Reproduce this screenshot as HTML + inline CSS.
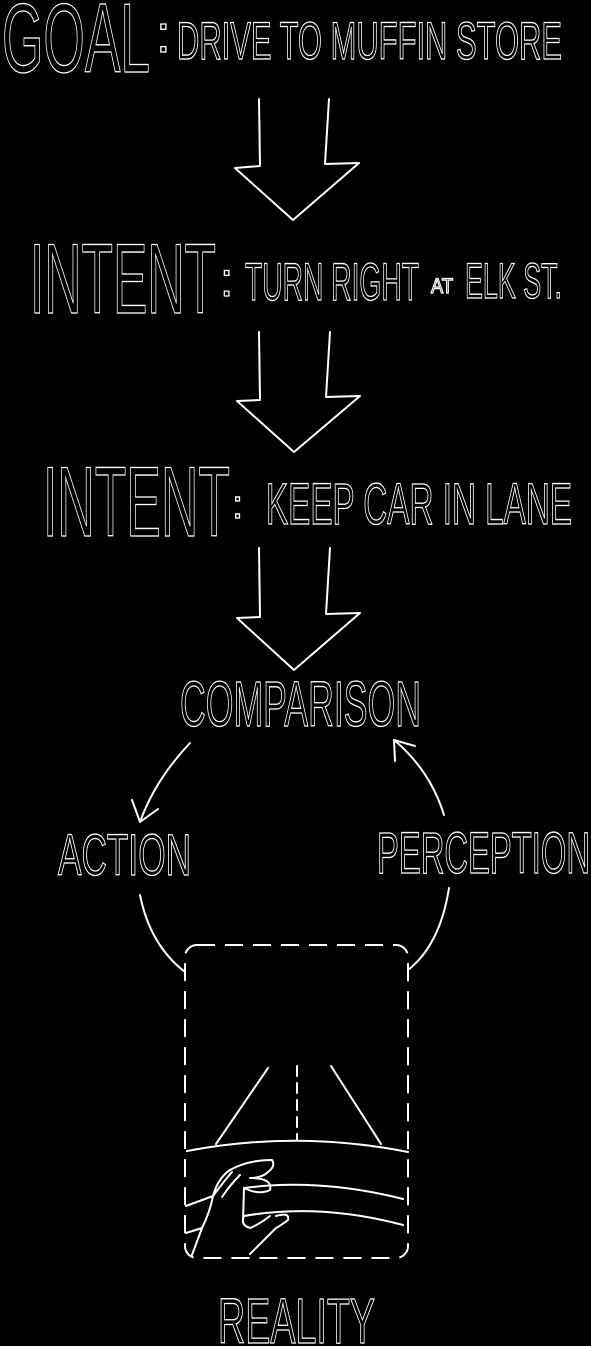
<!DOCTYPE html>
<html><head><meta charset="utf-8"><style>
html,body{margin:0;padding:0;background:#000;width:591px;height:1346px;overflow:hidden}
svg{display:block}
text{font-family:"Liberation Sans",sans-serif;fill:none;stroke:#fff;stroke-width:1.3}
.l{fill:none;stroke:#fff;stroke-width:2;stroke-linecap:round;stroke-linejoin:round}
</style></head><body>
<svg width="591" height="1346" viewBox="0 0 591 1346">
<text x="2" y="72" font-size="98" textLength="148" lengthAdjust="spacingAndGlyphs">GOAL</text>
<text x="156" y="52" font-size="53">:</text>
<text x="177" y="59" font-size="53" textLength="385" lengthAdjust="spacingAndGlyphs">DRIVE TO MUFFIN STORE</text>
<path class="l" d="M259 99 L260 166 L235 168 L293 220 L359 163 L325 164 L329 99"/>

<text x="30" y="313" font-size="99" textLength="186" lengthAdjust="spacingAndGlyphs">INTENT</text>
<text x="220" y="296" font-size="48">:</text>
<text x="245" y="300" font-size="53" textLength="174" lengthAdjust="spacingAndGlyphs">TURN RIGHT</text>
<text x="431" y="293" font-size="21" textLength="22" lengthAdjust="spacingAndGlyphs">AT</text>
<text x="465" y="298" font-size="50" textLength="97" lengthAdjust="spacingAndGlyphs">ELK ST.</text>
<path class="l" d="M259 332 L260 400 L237 401 L294 452 L360 396 L326 397 L330 332"/>

<text x="43" y="536" font-size="99" textLength="187" lengthAdjust="spacingAndGlyphs">INTENT</text>
<text x="232" y="518" font-size="40">:</text>
<text x="266" y="524" font-size="58" textLength="306" lengthAdjust="spacingAndGlyphs">KEEP CAR IN LANE</text>
<path class="l" d="M259 548 L260 617 L237 618 L294 670 L360 613 L326 614 L330 548"/>

<text x="180" y="726" font-size="64" textLength="241" lengthAdjust="spacingAndGlyphs">COMPARISON</text>
<path class="l" d="M190 743 Q155 780 140 822 M140 822 L132 800 M140 822 L158 809"/>
<path class="l" d="M444 815 Q430 770 394 740 M394 740 L395 761 M394 740 L415 746"/>
<text x="58" y="875" font-size="58" textLength="133" lengthAdjust="spacingAndGlyphs">ACTION</text>
<text x="377" y="873" font-size="58" textLength="213" lengthAdjust="spacingAndGlyphs">PERCEPTION</text>
<path class="l" d="M140 895 Q150 945 185 972"/>
<path class="l" d="M449 888 Q440 945 408 970"/>

<rect x="185" y="945" width="223" height="313" rx="12" fill="none" stroke="#fff" stroke-width="2" stroke-dasharray="18 10"/>
<g>
<path class="l" d="M268 1068 L216 1144 M331 1066 L381 1144"/>
<path class="l" d="M297 1066 L297 1140" stroke-dasharray="10 7"/>
<path class="l" d="M187 1151 Q297 1130 408 1152"/>
<path class="l" d="M244 1188 Q320 1178 403 1199 M244 1216 Q320 1203 403 1225 M244 1188 L243 1220"/>
<path class="l" d="M186 1206 L213 1196 Q218 1178 230 1170 Q248 1160 272 1160 Q276 1166 268 1172 Q262 1178 250 1178 Q273 1178 270 1190 Q260 1195 246 1189 M213 1196 Q225 1180 232 1172 M222 1197 Q230 1185 240 1175 M186 1233 L202 1228 L192 1255 M202 1228 Q210 1212 213 1196 M244 1216 Q240 1225 250 1228 Q258 1225 270 1216 M276 1216 Q290 1212 288 1220 Q280 1226 276 1228 L250 1254"/>
</g>
<text x="218" y="1343" font-size="64" textLength="157" lengthAdjust="spacingAndGlyphs">REALITY</text>
</svg>
</body></html>
